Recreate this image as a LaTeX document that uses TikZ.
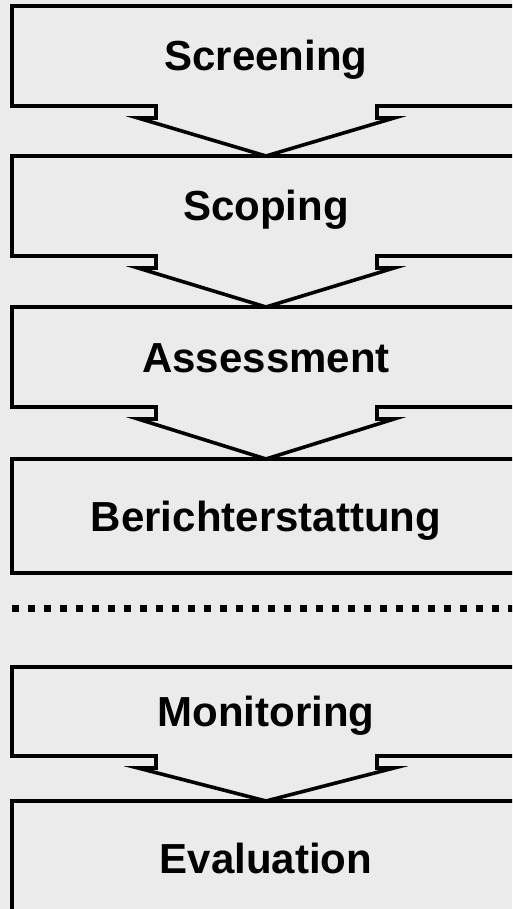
\documentclass[tikz,border=0pt]{standalone}
\usepackage{fontspec}
\setmainfont{Liberation Sans}
\usepackage{tikz}
\definecolor{bggray}{RGB}{235,235,235}
\tikzset{phase/.style={font=\fontsize{42}{48}\selectfont\bfseries,text height=30pt,text depth=0pt,inner sep=0pt}}
% box with a downward chevron: top, bottom, tip
\newcommand{\phasebox}[3]{%
	\draw (\xl,#1) -- (\xr,#1) -- (\xr,#2) -- (377,#2) -- (377,#2+12) -- (394,#2+12) -- (\xc,#3) -- (138,#2+12) -- (156,#2+12) -- (156,#2) -- (\xl,#2) -- cycle;}

\begin{document}
\begin{tikzpicture}[x=1pt,y=-1pt,line width=3.6pt]
				\def\xl{12}
				\def\xr{530}
				\def\xc{266}
				\useasboundingbox (0,0) rectangle (512,909);
				\fill[bggray] (0,0) rectangle (512,909);
				\clip (0,0) rectangle (512,909);
				\phasebox{6}{106}{156}
				\phasebox{156}{256}{307}
				\phasebox{307}{407}{459}
				\draw (\xl,459) rectangle (\xr,573);
				\draw[line width=7pt,dash pattern=on 7pt off 9pt] (\xl,608) -- (\xr,608);
				\phasebox{667}{756}{801}
				\draw (\xl,801) rectangle (\xr,920);
				\node[phase] (screening) at (\xc,56) {Screening};
				\node[phase] (scoping) at (\xc,206) {Scoping};
				\node[phase] (assessment) at (\xc,357) {Assessment};
				\node[phase] (bericht) at (\xc,516) {Berichterstattung};
				\node[phase] (monitoring) at (\xc,711.5) {Monitoring};
				\node[phase] (evaluation) at (\xc,858) {Evaluation};
			\end{tikzpicture}
\end{document}
